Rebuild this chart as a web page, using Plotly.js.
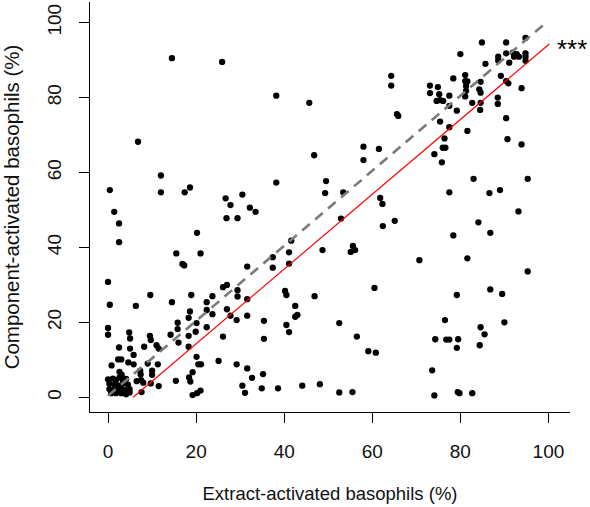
<!DOCTYPE html>
<html>
<head>
<meta charset="utf-8">
<script src="https://cdn.plot.ly/plotly-3.0.1.min.js"></script>
<style>html,body{margin:0;padding:0;background:#fff;}#chart{width:590px;height:507px;}</style>
</head>
<body>
<div id="chart"></div>
<script>
// Extract-activated basophils (%) per observation
const extractPct = [
14.5,25.9,38.2,45.7,6.8,46.8,12.0,0.4,12.0,17.4,18.6,26.7,27.8,30.5,32.2,38.2,49.5,49.3,
33.5,26.9,29.4,1.4,2.5,2.5,20.2,15.5,21.0,16.9,17.3,0.0,31.6,37.4,37.4,41.1,41.1,41.6,48.7,52.5,52.5,
0.4,0.0,0.0,9.6,6.3,14.5,18.9,22.4,23.7,27.0,26.1,29.4,29.4,31.6,22.4,23.7,27.0,27.8,29.2,31.6,
18.6,18.3,20.1,19.9,18.3,15.8,15.8,14.2,16.0,18.3,22.4,26.1,20.1,21.1,20.5,19.2,18.4,18.7,15.4,
19.2,20.2,21.0,25.1,29.2,31.6,32.7,35.2,30.5,31.1,34.9,38.6,44.1,48.1,35.4,35.4,40.2,40.5,42.5,
43.0,42.5,40.5,41.1,46.9,
4.8,5.0,2.5,5.0,5.8,8.2,9.5,9.7,11.0,11.5,2.3,3.0,0.8,4.6,5.8,9.0,11.3,7.3,7.4,10.0,10.0,
6.5,7.5,8.0,9.7,11.5,7.6,2.6,3.1,
0.0,1.1,1.8,2.6,3.3,4.1,0.3,1.5,2.2,3.3,4.5,0.3,1.1,2.2,3.0,3.7,4.9,0.7,1.8,3.0,4.1,4.9,
84.9,90.4,94.8,80.0,85.7,88.6,88.6,90.4,91.9,92.2,92.8,93.3,94.8,94.8,94.8,91.1,89.2,90.4,90.9,93.9,
64.3,64.3,65.9,65.6,73.1,73.1,74.9,75.2,74.6,75.4,76.1,77.5,77.5,78.4,81.1,81.1,81.6,81.3,81.3,81.1,
79.2,82.7,84.3,84.6,84.6,84.6,84.5,88.5,88.5,75.4,77.5,81.6,90.4,90.7,93.9,76.4,76.0,76.6,74.1,75.8,
58.0,58.0,61.5,53.4,61.8,62.3,83.0,95.3,77.5,86.6,89.0,
52.9,62.4,65.1,93.2,84.1,86.8,78.4,95.3,81.6,70.7,55.1,55.6,56.1,60.5,86.8,89.5,79.2,56.5,59.1,60.8,
76.5,74.3,76.8,77.5,79.5,79.2,84.6,85.5,84.4,90.0,73.6,55.5,74.1,79.4,79.8,82.7
];
// Component-activated basophils (%) per observation
const componentPct = [
90.5,89.5,80.5,78.6,68.2,64.6,59.2,55.3,54.7,54.7,56.0,53.1,51.3,54.1,50.6,57.3,57.7,54.5,
49.5,47.8,47.8,49.5,46.4,41.4,43.9,38.4,38.4,35.6,35.2,30.8,34.9,37.4,34.6,38.7,35.7,41.8,39.3,19.8,1.3,
24.7,18.5,16.7,27.3,24.4,25.4,27.3,25.4,27.0,30.0,29.4,28.6,26.9,26.2,23.3,22.2,23.5,21.8,20.6,21.8,
22.9,21.2,19.8,17.5,16.4,19.9,18.2,16.7,14.6,13.5,18.7,16.2,10.8,8.8,8.8,6.7,5.3,4.2,4.4,
0.6,1.1,1.8,9.7,8.8,7.7,5.2,6.2,3.1,1.2,2.4,2.4,3.1,3.5,20.4,15.6,28.4,27.3,24.4,
22.0,21.5,19.3,17.4,27.0,
17.3,15.7,13.3,13.0,11.3,13.5,16.4,15.3,13.9,13.0,10.1,10.1,8.5,9.3,8.8,9.0,8.8,7.1,6.1,7.1,6.0,
4.3,4.6,3.9,3.7,3.0,1.4,6.8,6.0,
4.8,5.0,4.6,5.3,4.8,4.9,3.6,3.4,3.2,3.6,3.4,2.2,2.0,1.8,2.2,2.0,2.2,1.1,1.1,1.1,0.8,1.3,
94.7,94.7,95.9,91.6,89.0,90.9,89.9,91.8,92.0,90.9,91.6,90.9,91.8,90.9,89.8,89.3,85.8,84.4,83.8,82.5,
85.8,83.2,75.1,75.6,83.2,81.2,82.8,80.9,79.1,79.3,79.1,80.5,77.8,85.1,86.0,84.4,84.3,83.1,81.8,80.3,
76.5,78.6,82.2,84.2,81.3,78.6,76.7,80.0,78.3,73.6,72.1,71.1,74.5,68.9,67.5,69.1,66.6,66.6,64.9,62.7,
66.9,63.3,66.3,54.7,53.2,51.6,58.3,58.3,54.7,54.5,55.3,
47.7,45.7,47.1,49.6,46.7,43.9,43.2,33.6,37.1,36.6,38.8,40.4,39.3,29.2,28.8,27.6,27.3,16.2,12.3,11.9,
20.6,15.5,15.4,15.4,15.5,13.2,18.7,16.8,13.9,20.0,7.2,1.4,0.5,1.4,1.1,1.1
];
// Fitted line endpoints (red solid) and identity-like reference (grey dashed)
const fitRedX = [5.7, 100.2];
const fitRedY = [0, 94.3];
const refDashX = [0, 98.9];
const refDashY = [0.4, 99.4];
const xTicks = [0, 20, 40, 60, 80, 100];
const yTicks = [0, 20, 40, 60, 80, 100];
const xTitle = 'Extract-activated basophils (%)';
const yTitle = 'Component-activated basophils (%)';
const sigLabel = '***';

const font = 'Liberation Sans, Arial, sans-serif';
const traces = [
  {x: extractPct, y: componentPct, mode: 'markers', type: 'scatter',
   marker: {color: '#000', size: 6.3, symbol: 'circle'}, cliponaxis: false, hoverinfo: 'x+y'},
  {x: refDashX, y: refDashY, mode: 'lines', type: 'scatter',
   line: {color: '#7a7a7a', width: 2.6, dash: '10px,7px'}},
  {x: fitRedX, y: fitRedY, mode: 'lines', type: 'scatter',
   line: {color: '#ff0000', width: 1.2}}
];
const axisCommon = {
  showgrid: false, zeroline: false, showline: true, linecolor: '#000', linewidth: 1,
  ticks: 'outside', ticklen: 10, tickwidth: 1, tickcolor: '#000',
  tickfont: {family: font, size: 19, color: '#111'}, automargin: false
};
const layout = {
  width: 590, height: 507,
  margin: {l: 90, r: 20, t: 2, b: 95},
  paper_bgcolor: '#fff', plot_bgcolor: '#fff',
  showlegend: false,
  xaxis: Object.assign({}, axisCommon, {
    range: [-4.1, 104.9], tickvals: xTicks, ticktext: xTicks.map(String),
    ticklabelstandoff: 12,
    title: {text: xTitle, font: {family: font, size: 18.5, color: '#111'}, standoff: 26}
  }),
  yaxis: Object.assign({}, axisCommon, {
    range: [-3.92, 105.5], tickvals: yTicks, ticktext: yTicks.map(String),
    tickangle: -90, ticklabelstandoff: 10,
    title: {text: yTitle, font: {family: font, size: 20.5, color: '#111'}, standoff: 22}
  }),
  annotations: [{
    text: sigLabel, xref: 'paper', yref: 'y', x: 1.004, y: 94.3,
    xanchor: 'center', yanchor: 'middle', showarrow: false,
    font: {family: font, size: 26, color: '#000'}, yshift: -5
  }]
};
Plotly.newPlot('chart', traces, layout, {displayModeBar: false, staticPlot: true});
</script>
</body>
</html>
